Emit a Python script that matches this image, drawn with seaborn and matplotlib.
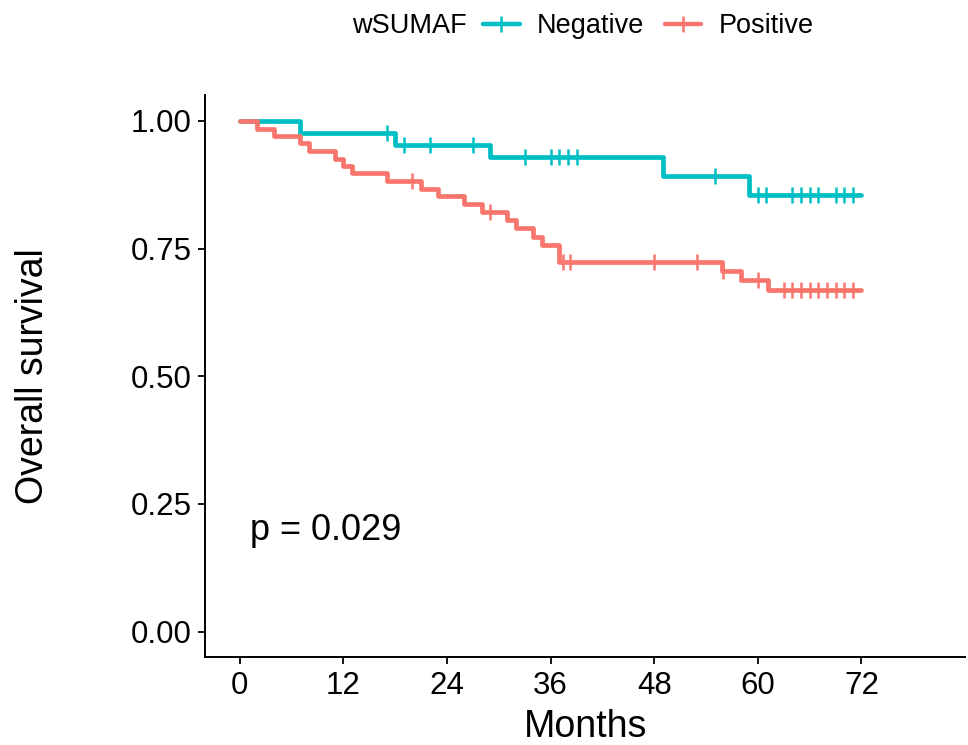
"""
Kaplan-Meier style overall survival curves by wSUMAF status.
Step curves with censor ticks, p-value annotation, legend on top.
"""

import numpy as np
import pandas as pd
import matplotlib
matplotlib.use("Agg")
import matplotlib.pyplot as plt
from matplotlib.lines import Line2D
import seaborn as sns

# ---- Data (months, survival probability) ----
GROUPS = ["Negative", "Positive"]
COLORS = {"Negative": "#00BFC4", "Positive": "#F8766D"}
END_TIME = 72

neg_event_times = [7, 18, 29, 49, 59]
neg_surv = [0.976, 0.953, 0.929, 0.893, 0.854]
neg_censor_times = [17, 19, 22, 27, 33, 36, 37, 38, 39, 55,
                    60, 61, 64, 65, 66, 67, 69, 70, 71]

pos_event_times = [2, 4, 7, 8, 11, 12, 13, 17, 21, 23, 26, 28, 31, 32,
                   34, 35, 37, 55.8, 58, 61.2]
pos_surv = [0.985, 0.971, 0.956, 0.941, 0.926, 0.912, 0.897, 0.882,
            0.867, 0.852, 0.837, 0.822, 0.806, 0.790, 0.773, 0.756,
            0.724, 0.706, 0.689, 0.668]
pos_censor_times = [20, 29, 37.4, 38.2, 48, 53, 56, 60, 63, 64, 65, 66,
                    67, 68, 69, 70, 71]

x_ticks = [0, 12, 24, 36, 48, 60, 72]
y_ticks = [0.00, 0.25, 0.50, 0.75, 1.00]
y_tick_labels = ["0.00", "0.25", "0.50", "0.75", "1.00"]
P_TEXT = "p = 0.029"
LEGEND_TITLE = "wSUMAF"


def build_curves():
    """Step-curve table: start at 1.0 at t=0, extend last value to END_TIME."""
    rows = []
    events = {"Negative": (neg_event_times, neg_surv),
              "Positive": (pos_event_times, pos_surv)}
    for g in GROUPS:
        t, s = events[g]
        times = [0] + list(t) + [END_TIME]
        surv = [1.0] + list(s) + [s[-1]]
        for ti, si in zip(times, surv):
            rows.append({"time": ti, "surv": si, "group": g})
    return pd.DataFrame(rows)


def build_censors(curves):
    """Censor marks sit on the curve level at their time."""
    rows = []
    censors = {"Negative": neg_censor_times, "Positive": pos_censor_times}
    for g in GROUPS:
        sub = curves[curves["group"] == g]
        times = sub["time"].values
        surv = sub["surv"].values
        for c in censors[g]:
            idx = np.searchsorted(times, c, side="right") - 1
            rows.append({"time": c, "surv": surv[idx], "group": g})
    return pd.DataFrame(rows)


def main():
    sns.set_theme(style="ticks")
    plt.rcParams["font.family"] = ["Liberation Sans", "DejaVu Sans"]

    curves = build_curves()
    cens = build_censors(curves)

    fig = plt.figure(figsize=(9.68, 7.45), dpi=100)
    ax = fig.add_axes([0.212, 0.118, 0.785, 0.754])

    sns.lineplot(data=curves, x="time", y="surv", hue="group",
                 palette=COLORS, estimator=None, sort=False,
                 drawstyle="steps-post", linewidth=3.4, legend=False, ax=ax)

    for g in GROUPS:
        sub = cens[cens["group"] == g]
        ax.plot(sub["time"], sub["surv"], ls="none", marker="|",
                markersize=12, markeredgewidth=1.8, color=COLORS[g])

    ax.set_xlim(-4, 84)
    ax.set_ylim(-0.05, 1.05)
    ax.set_xticks(x_ticks)
    ax.set_yticks(y_ticks)
    ax.set_yticklabels(y_tick_labels)
    ax.tick_params(labelsize=22.5, length=5, width=1.3, color="black",
                   labelcolor="black", pad=5)
    for side in ["left", "bottom"]:
        ax.spines[side].set_linewidth(1.4)
        ax.spines[side].set_color("black")
    sns.despine(ax=ax)

    ax.set_xlabel("Months", fontsize=27, color="black")
    ax.set_ylabel("Overall survival", fontsize=27, color="black")
    ax.xaxis.set_label_coords(0.5, -0.092)
    ax.yaxis.set_label_coords(-0.203, 0.5)

    ax.text(1.2, 0.197, P_TEXT, fontsize=26, va="center", ha="left",
            color="black")

    # legend on top, title placed to the left of the entries
    fig.text(352 / 968, 0.965, LEGEND_TITLE, fontsize=19.5,
             va="center", ha="left", color="black")
    handles = [Line2D([0], [0], color=COLORS[g], lw=3.2, marker="|",
                      markersize=12, markeredgewidth=1.8) for g in GROUPS]
    leg = fig.legend(handles, GROUPS, loc="center left",
                     bbox_to_anchor=(483 / 968, 0.965), ncol=2,
                     frameon=False, fontsize=19.5, handlelength=1.35,
                     handletextpad=0.65, columnspacing=0.75,
                     borderpad=0, borderaxespad=0)
    for txt in leg.get_texts():
        txt.set_color("black")

    fig.savefig("out.png", dpi=100)
    plt.close(fig)


if __name__ == "__main__":
    main()
